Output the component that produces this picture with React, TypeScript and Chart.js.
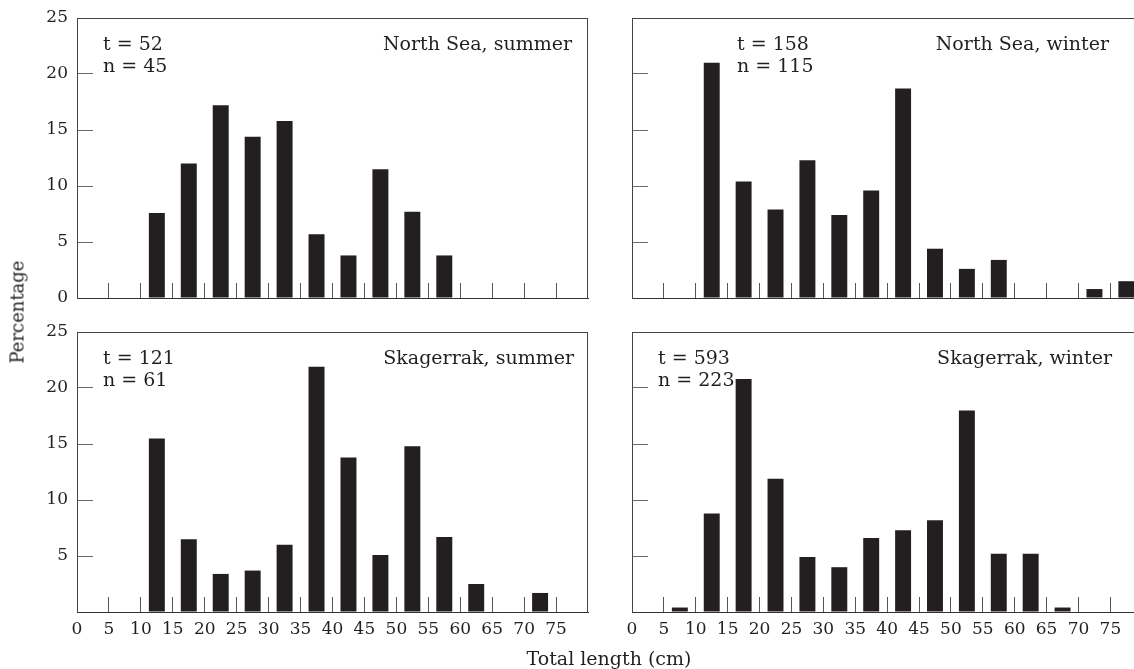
import React, { useEffect, useRef } from 'react';
import { Chart, registerables } from 'chart.js';

Chart.register(...registerables);

// 5-cm length classes (centres, cm)
const binCenters = [2.5, 7.5, 12.5, 17.5, 22.5, 27.5, 32.5, 37.5, 42.5, 47.5, 52.5, 57.5, 62.5, 67.5, 72.5, 77.5];
// Percentage per length class
const northSeaSummer = [0, 0, 7.6, 12.0, 17.2, 14.4, 15.8, 5.7, 3.8, 11.5, 7.7, 3.8, 0, 0, 0, 0];
const northSeaWinter = [0, 0, 21.0, 10.4, 7.9, 12.3, 7.4, 9.6, 18.7, 4.4, 2.6, 3.4, 0, 0, 0.8, 1.5];
const skagerrakSummer = [0, 0, 15.5, 6.5, 3.4, 3.7, 6.0, 21.9, 13.8, 5.1, 14.8, 6.7, 2.5, 0, 1.7, 0];
const skagerrakWinter = [0, 0.4, 8.8, 20.8, 11.9, 4.9, 4.0, 6.6, 7.3, 8.2, 18.0, 5.2, 5.2, 0.4, 0, 0];

const xTickValues = [0, 5, 10, 15, 20, 25, 30, 35, 40, 45, 50, 55, 60, 65, 70, 75];
const yTickValues = [0, 5, 10, 15, 20, 25];

const panelTitles = ['North Sea, summer', 'North Sea, winter', 'Skagerrak, summer', 'Skagerrak, winter'];
const tValues = [52, 158, 121, 593];
const nValues = [45, 115, 61, 223];

const xAxisTitle = 'Total length (cm)';
const yAxisTitle = 'Percentage';

const FONT = '"DejaVu Serif", "Liberation Serif", serif';
const INK = '#231f20';

type PanelProps = {
  values: number[];
  title: string;
  t: number;
  n: number;
  left: number;
  top: number;
  width: number;
  height: number;
  padTop: number;
  padRight: number;
  yWidth: number;
  xHeight: number;
  xMax: number;
  showYLabels: boolean;
  hideYZero: boolean;
  showXLabels: boolean;
  frameRight: boolean;
  statsX: number;
  titleInset: number;
};

function zeroPadding(s: any) {
  s.paddingTop = 0;
  s.paddingBottom = 0;
  s.paddingLeft = 0;
  s.paddingRight = 0;
}

function Panel(p: PanelProps) {
  const ref = useRef<HTMLCanvasElement | null>(null);

  useEffect(() => {
    if (!ref.current) return;
    const framePlugin = {
      id: 'frameAndText',
      afterDraw(chart: any) {
        const { ctx, chartArea: a } = chart;
        ctx.save();
        ctx.strokeStyle = '#444';
        ctx.lineWidth = 1;
        ctx.beginPath();
        ctx.moveTo(a.left, Math.round(a.top) + 0.5);
        ctx.lineTo(a.right, Math.round(a.top) + 0.5);
        if (p.frameRight) {
          ctx.moveTo(Math.round(a.right) - 0.5, a.top);
          ctx.lineTo(Math.round(a.right) - 0.5, a.bottom);
        }
        ctx.stroke();
        ctx.fillStyle = INK;
        ctx.font = `19px ${FONT}`;
        ctx.textBaseline = 'alphabetic';
        ctx.textAlign = 'left';
        ctx.fillText(`t = ${p.t}`, a.left + p.statsX, a.top + 32);
        ctx.fillText(`n = ${p.n}`, a.left + p.statsX, a.top + 53.5);
        ctx.textAlign = 'right';
        ctx.fillText(p.title, a.right - p.titleInset, a.top + 32);
        ctx.restore();
      },
    };

    const chart = new Chart(ref.current, {
      type: 'bar',
      data: {
        datasets: [
          {
            data: binCenters.map((x, i) => ({ x, y: p.values[i] })),
            backgroundColor: INK,
            borderWidth: 0,
            barPercentage: 0.5,
            categoryPercentage: 1,
          } as any,
        ],
      },
      options: {
        animation: false,
        responsive: false,
        maintainAspectRatio: false,
        events: [],
        layout: { padding: { top: p.padTop, right: p.padRight, bottom: 0, left: 0 } },
        plugins: { legend: { display: false }, tooltip: { enabled: false }, title: { display: false } },
        scales: {
          x: {
            type: 'linear',
            min: 0,
            max: p.xMax,
            offset: false,
            afterBuildTicks: (s: any) => {
              s.ticks = xTickValues.map((v) => ({ value: v }));
            },
            afterFit: (s: any) => {
              s.height = p.xHeight;
              zeroPadding(s);
            },
            ticks: {
              display: p.showXLabels,
              autoSkip: false,
              maxRotation: 0,
              padding: 22,
              color: INK,
              font: { family: FONT, size: 17 },
              callback: (v: any) => String(v),
            },
            grid: {
              offset: false,
              drawOnChartArea: false,
              drawTicks: true,
              tickLength: -15,
              color: '#555',
              lineWidth: 1,
            },
            border: { display: true, color: '#333', width: 1 },
          },
          y: {
            type: 'linear',
            min: 0,
            max: 25,
            afterBuildTicks: (s: any) => {
              s.ticks = yTickValues.map((v) => ({ value: v }));
            },
            afterFit: (s: any) => {
              s.width = p.yWidth;
              zeroPadding(s);
            },
            ticks: {
              display: p.showYLabels,
              padding: 25,
              color: INK,
              font: { family: FONT, size: 17 },
              callback: (v: any) => (p.hideYZero && v === 0 ? '' : String(v)),
            },
            grid: {
              drawOnChartArea: false,
              drawTicks: true,
              tickLength: -16,
              color: '#6a6a6a',
              lineWidth: 1,
            },
            border: { display: true, color: '#444', width: 1 },
          },
        },
      } as any,
      plugins: [framePlugin],
    });
    return () => chart.destroy();
  }, []);

  return (
    <canvas
      ref={ref}
      width={p.width}
      height={p.height}
      style={{ position: 'absolute', left: p.left, top: p.top, width: p.width, height: p.height }}
    />
  );
}

export default function App() {
  return (
    <div
      style={{
        position: 'absolute',
        left: 0,
        top: 0,
        width: 1134,
        height: 669,
        overflow: 'hidden',
        background: '#fff',
      }}
    >
      <Panel
        values={northSeaSummer}
        title={panelTitles[0]}
        t={tValues[0]}
        n={nValues[0]}
        left={0}
        top={0}
        width={600}
        height={315}
        padTop={18}
        padRight={12}
        yWidth={77}
        xHeight={17}
        xMax={80}
        showYLabels={true}
        hideYZero={false}
        showXLabels={false}
        frameRight={true}
        statsX={26}
        titleInset={16}
      />
      <Panel
        values={northSeaWinter}
        title={panelTitles[1]}
        t={tValues[1]}
        n={nValues[1]}
        left={600}
        top={0}
        width={534}
        height={315}
        padTop={18}
        padRight={0}
        yWidth={32}
        xHeight={17}
        xMax={78.7}
        showYLabels={false}
        hideYZero={false}
        showXLabels={false}
        frameRight={false}
        statsX={105}
        titleInset={25}
      />
      <Panel
        values={skagerrakSummer}
        title={panelTitles[2]}
        t={tValues[2]}
        n={nValues[2]}
        left={0}
        top={315}
        width={600}
        height={354}
        padTop={17}
        padRight={12}
        yWidth={77}
        xHeight={57}
        xMax={80}
        showYLabels={true}
        hideYZero={true}
        showXLabels={true}
        frameRight={true}
        statsX={26}
        titleInset={14}
      />
      <Panel
        values={skagerrakWinter}
        title={panelTitles[3]}
        t={tValues[3]}
        n={nValues[3]}
        left={600}
        top={315}
        width={534}
        height={354}
        padTop={17}
        padRight={0}
        yWidth={32}
        xHeight={57}
        xMax={78.7}
        showYLabels={false}
        hideYZero={true}
        showXLabels={true}
        frameRight={false}
        statsX={26}
        titleInset={22}
      />
      <div
        style={{
          position: 'absolute',
          left: 17,
          top: 312,
          transform: 'translate(-50%, -50%) rotate(-90deg)',
          fontFamily: FONT,
          fontSize: 18,
          color: INK,
          whiteSpace: 'nowrap',
          lineHeight: 'normal',
        }}
      >
        {yAxisTitle}
      </div>
      <div
        style={{
          position: 'absolute',
          left: 609,
          top: 647,
          transform: 'translateX(-50%)',
          fontFamily: FONT,
          fontSize: 19,
          color: INK,
          whiteSpace: 'nowrap',
          lineHeight: 'normal',
        }}
      >
        {xAxisTitle}
      </div>
    </div>
  );
}
